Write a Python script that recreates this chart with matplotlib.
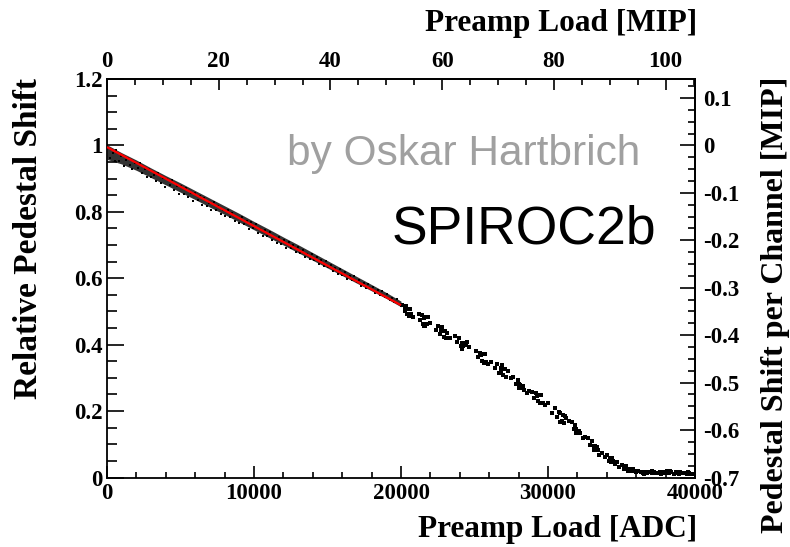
import matplotlib
matplotlib.use("Agg")
import matplotlib.pyplot as plt
from matplotlib.ticker import MultipleLocator, FuncFormatter
import numpy as np

plt.rcParams['axes.unicode_minus'] = False
SERIF = ['Liberation Serif', 'DejaVu Serif']
SANS = ['Liberation Sans', 'DejaVu Sans']

# ADC counts per MIP (top axis) and MIP shift at full relative shift (right axis)
ADC_PER_MIP = 380.0
MIP_SCALE = 0.7

# Dense part of the measurement (0 - 20000 ADC): extent of the point cloud
band_x = [0, 1000, 2000, 3000, 4000, 5000, 6000, 7000, 8000, 9000, 10000,
          11000, 12000, 13000, 14000, 15000, 16000, 17000, 18000, 19000, 20000]
band_lo = [0.958, 0.944, 0.925, 0.903, 0.881, 0.859, 0.837, 0.814, 0.792, 0.769, 0.746,
           0.723, 0.700, 0.677, 0.654, 0.631, 0.608, 0.585, 0.562, 0.539, 0.514]
band_hi = [1.002, 0.978, 0.956, 0.932, 0.909, 0.887, 0.864, 0.841, 0.818, 0.795, 0.771,
           0.748, 0.724, 0.701, 0.677, 0.653, 0.629, 0.605, 0.581, 0.557, 0.531]

# Individual measurements scattered around the cloud
dense_x = [80, 230, 380, 520, 610, 790, 950, 1130, 1260, 1440, 1590, 1730, 1910, 2080,
           2220, 2390, 2560, 2690, 2870, 3020, 3180, 3330, 3490, 3650, 3790, 3960, 4110,
           4260, 4420, 4580, 4730, 4890, 5040, 5210, 5370, 5520, 5690, 5830, 6000, 6160,
           6310, 6470, 6620, 6790, 6950, 7100, 7270, 7430, 7580, 7740, 7900, 8060, 8210,
           8380, 8530, 8690, 8850, 9010, 9160, 9330, 9490, 9640, 9800, 9960, 10120, 10290,
           10440, 10600, 10760, 10910, 11080, 11230, 11390, 11550, 11710, 11870, 12030,
           12190, 12350, 12500, 12660, 12830, 12980, 13140, 13300, 13460, 13620, 13780,
           13940, 14100, 14260, 14420, 14580, 14740, 14900, 15060, 15220, 15380, 15540,
           15700, 15860, 16020, 16180, 16340, 16500, 16660, 16820, 16980, 17140, 17300,
           17460, 17620, 17780, 17940, 18100, 18260, 18420, 18580, 18740, 18900, 19060,
           19220, 19380, 19540, 19700, 19860]
dense_y = [0.992, 0.962, 0.977, 0.952, 0.985, 0.952, 0.968, 0.938, 0.955, 0.963, 0.940,
           0.928, 0.948, 0.931, 0.946, 0.916, 0.929, 0.904, 0.928, 0.906, 0.912, 0.893,
           0.918, 0.888, 0.902, 0.876, 0.899, 0.880, 0.895, 0.865, 0.879, 0.854, 0.877,
           0.855, 0.872, 0.844, 0.856, 0.834, 0.856, 0.835, 0.847, 0.821, 0.842, 0.818,
           0.826, 0.807, 0.829, 0.807, 0.818, 0.792, 0.807, 0.787, 0.806, 0.783, 0.796,
           0.771, 0.783, 0.765, 0.783, 0.762, 0.773, 0.749, 0.768, 0.750, 0.762, 0.736,
           0.749, 0.728, 0.746, 0.727, 0.739, 0.715, 0.725, 0.706, 0.724, 0.703, 0.716,
           0.692, 0.710, 0.692, 0.700, 0.678, 0.695, 0.675, 0.686, 0.664, 0.674, 0.657,
           0.673, 0.654, 0.664, 0.642, 0.654, 0.636, 0.651, 0.633, 0.641, 0.621, 0.631,
           0.614, 0.628, 0.610, 0.618, 0.599, 0.608, 0.594, 0.606, 0.589, 0.596, 0.578,
           0.587, 0.572, 0.583, 0.567, 0.575, 0.556, 0.564, 0.550, 0.561, 0.544, 0.552,
           0.535, 0.542, 0.529, 0.538, 0.523]

# Sparser measurements above 20000 ADC (clustered load steps and saturation tail)
sparse_x = [
    20100, 20250, 20350, 20420, 20500, 20560, 20620, 20700, 20300, 20800,
    21200, 21300, 21420, 21500, 21580, 21650, 21700, 21760, 21850, 21550, 21950,
    22400, 22500, 22650, 22750, 22820, 22900, 22980, 23050, 23150, 22700, 23300,
    23650, 23800, 23950, 24100, 24180, 24250, 24320, 24400, 24500, 24150, 24650,
    25100, 25250, 25400, 25480, 25550, 25620, 25700, 25800, 25450, 25950, 26100,
    26400, 26550, 26700, 26800, 26880, 26950, 27050, 27150, 26780, 27300, 27450,
    27650, 27800, 27950, 28050, 28120, 28200, 28280, 28400, 28000, 28550, 28700,
    28900, 29050, 29200, 29300, 29380, 29450, 29550, 29650, 29250, 29800, 30000,
    30300, 30450, 30600, 30750, 30850, 30920, 31000, 31080, 31150, 31250, 30800, 31400,
    31600, 31750, 31850, 31930, 32000, 32050, 32120, 32200, 31900, 32350, 32500,
    32700, 32850, 33000, 33100, 33180, 33250, 33300, 33380, 33150, 33500, 33650,
    33850, 34000, 34150, 34250, 34330, 34400, 34480, 34550, 34300, 34700, 34850,
    35000, 35150, 35300, 35450, 35550, 35650, 35750, 35850, 35400, 36000, 36150,
    36300, 36450, 36600, 36750, 36900, 37050, 37200, 37350, 37500, 37650, 37800,
    37950, 38100, 38250, 38400, 38550, 38700, 38850, 39000, 39150, 39300, 39450,
    39600, 39750, 39900, 36500, 37100, 37700, 38300, 38900, 39500]
sparse_y = [
    0.520, 0.502, 0.515, 0.491, 0.507, 0.487, 0.508, 0.492, 0.511, 0.484,
    0.492, 0.474, 0.489, 0.461, 0.481, 0.457, 0.482, 0.461, 0.483, 0.456, 0.465,
    0.445, 0.457, 0.432, 0.444, 0.452, 0.424, 0.441, 0.419, 0.435, 0.441, 0.419,
    0.426, 0.408, 0.420, 0.396, 0.405, 0.396, 0.406, 0.399, 0.408, 0.388, 0.394,
    0.380, 0.362, 0.376, 0.350, 0.371, 0.345, 0.371, 0.348, 0.368, 0.341, 0.349,
    0.329, 0.342, 0.316, 0.329, 0.339, 0.309, 0.326, 0.303, 0.322, 0.320, 0.299,
    0.303, 0.283, 0.293, 0.270, 0.278, 0.269, 0.277, 0.262, 0.283, 0.254, 0.260,
    0.258, 0.240, 0.255, 0.229, 0.248, 0.223, 0.247, 0.225, 0.246, 0.217, 0.223,
    0.195, 0.208, 0.182, 0.196, 0.195, 0.169, 0.188, 0.163, 0.186, 0.180, 0.168, 0.170,
    0.166, 0.146, 0.157, 0.133, 0.141, 0.134, 0.140, 0.134, 0.146, 0.119, 0.123,
    0.118, 0.098, 0.111, 0.084, 0.094, 0.083, 0.093, 0.083, 0.095, 0.069, 0.075,
    0.061, 0.069, 0.050, 0.059, 0.058, 0.049, 0.048, 0.042, 0.048, 0.047, 0.032,
    0.038, 0.026, 0.034, 0.021, 0.026, 0.021, 0.025, 0.021, 0.026, 0.016, 0.021,
    0.017, 0.015, 0.018, 0.014, 0.016, 0.013, 0.017, 0.015, 0.014, 0.018, 0.016,
    0.013, 0.019, 0.015, 0.017, 0.012, 0.016, 0.014, 0.018, 0.013, 0.015, 0.011,
    0.014, 0.010, 0.012, 0.012, 0.019, 0.011, 0.020, 0.010, 0.017]

# Linear fit to the low-load region
fit_x = [0, 20000]
fit_y = [0.995, 0.519]

fig = plt.figure(figsize=(7.9, 5.47), dpi=100)
ax = fig.add_axes([107 / 790, 1 - 477.5 / 547, 588 / 790, 398.5 / 547])

ax.fill_between(band_x, band_lo, band_hi, color='black', lw=0, alpha=0.8, zorder=2)
ax.plot(dense_x, dense_y, 's', color='black', ms=1.6, mew=0, zorder=2)
ax.plot(sparse_x, sparse_y, 's', color='black', ms=2.4, mew=0, zorder=2)
ax.plot(fit_x, fit_y, color='#ff0000', lw=1.6, zorder=3, solid_capstyle='butt')

ax.set_xlim(0, 40000)
ax.set_ylim(0, 1.2)

for sp in ax.spines.values():
    sp.set_linewidth(1.3)

fmt = FuncFormatter(lambda v, p: '%g' % round(v, 6))
TICK_FS = 16.5

ax.xaxis.set_major_locator(MultipleLocator(10000))
ax.xaxis.set_minor_locator(MultipleLocator(2000))
ax.yaxis.set_major_locator(MultipleLocator(0.2))
ax.yaxis.set_minor_locator(MultipleLocator(0.05))
ax.xaxis.set_major_formatter(fmt)
ax.yaxis.set_major_formatter(fmt)
ax.tick_params(axis='x', which='both', direction='in', bottom=True, top=False,
               width=1.2, pad=4)
ax.tick_params(axis='x', which='major', length=8.6)
ax.tick_params(axis='x', which='minor', length=4.3)
ax.tick_params(axis='y', which='both', direction='in', left=True, right=False,
               width=1.2, pad=3)
ax.tick_params(axis='y', which='major', length=12.5)
ax.tick_params(axis='y', which='minor', length=7)
for lab in ax.get_xticklabels() + ax.get_yticklabels():
    lab.set_fontfamily(SERIF)
    lab.set_fontweight('bold')
    lab.set_fontsize(TICK_FS)

# Top axis: load in MIP
top = ax.secondary_xaxis('top', functions=(lambda a: np.asarray(a) / ADC_PER_MIP,
                                           lambda m: np.asarray(m) * ADC_PER_MIP))
top.xaxis.set_major_locator(MultipleLocator(20))
top.xaxis.set_minor_locator(MultipleLocator(5))
top.xaxis.set_major_formatter(fmt)
top.tick_params(axis='x', which='both', direction='in', width=1.2, pad=5)
top.tick_params(axis='x', which='major', length=8)
top.tick_params(axis='x', which='minor', length=4.3)
top.spines['top'].set_linewidth(1.3)

# Right axis: pedestal shift in MIP
right = ax.secondary_yaxis('right', functions=(lambda r: (np.asarray(r) - 1.0) * MIP_SCALE,
                                               lambda s: np.asarray(s) / MIP_SCALE + 1.0))
right.yaxis.set_major_locator(MultipleLocator(0.1))
right.yaxis.set_minor_locator(MultipleLocator(0.025))
right.yaxis.set_major_formatter(fmt)
right.tick_params(axis='y', which='both', direction='in', width=1.2, pad=6)
right.tick_params(axis='y', which='major', length=10.8)
right.tick_params(axis='y', which='minor', length=5)
right.spines['right'].set_linewidth(1.3)

for sec in (top.xaxis, right.yaxis):
    for lab in sec.get_ticklabels():
        lab.set_fontfamily(SERIF)
        lab.set_fontweight('bold')
        lab.set_fontsize(TICK_FS)

# Axis titles
fig.text(697 / 790, 1 - 537 / 547, 'Preamp Load [ADC]', ha='right', va='baseline',
         fontsize=22.5, fontweight='bold', family=SERIF)
fig.text(697 / 790, 1 - 31 / 547, 'Preamp Load [MIP]', ha='right', va='baseline',
         fontsize=22.5, fontweight='bold', family=SERIF)
fig.text(37 / 790, 1 - 78 / 547, 'Relative Pedestal Shift', rotation=90,
         rotation_mode='anchor', ha='right', va='baseline',
         fontsize=24, fontweight='bold', family=SERIF)
fig.text(783 / 790, 1 - 77 / 547, 'Pedestal Shift per Channel [MIP]', rotation=90,
         rotation_mode='anchor', ha='right', va='baseline',
         fontsize=23, fontweight='bold', family=SERIF)

# Annotations
fig.text(287 / 790, 1 - 165 / 547, 'by Oskar Hartbrich', ha='left', va='baseline',
         fontsize=30.5, color='#a0a0a0', family=SANS)
fig.text(392 / 790, 1 - 243 / 547, 'SPIROC2b', ha='left', va='baseline',
         fontsize=38.5, color='black', family=SANS)

fig.savefig('out.png', dpi=100)
